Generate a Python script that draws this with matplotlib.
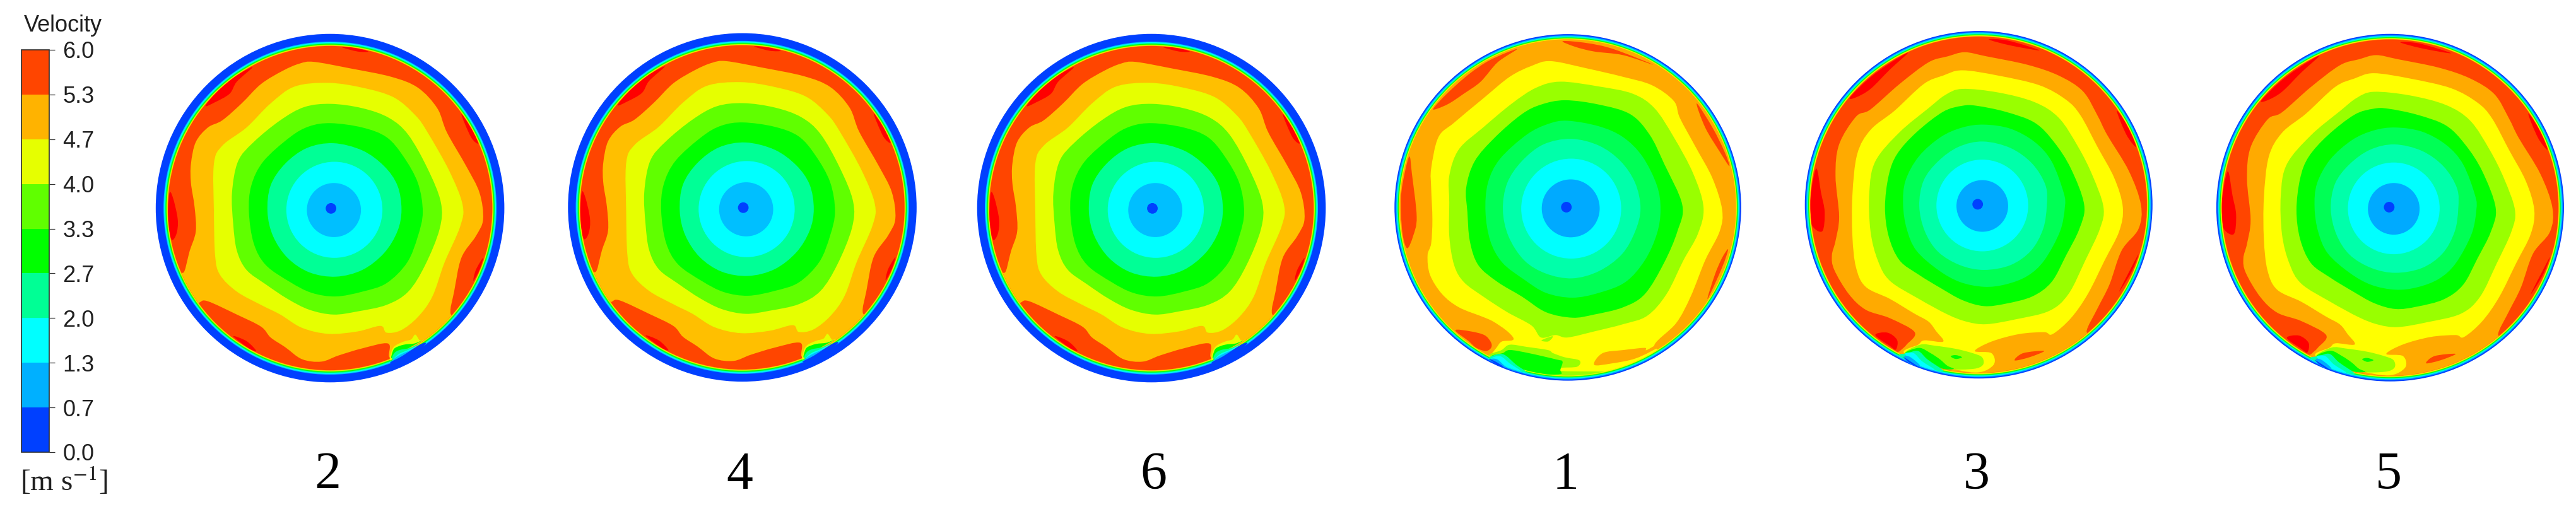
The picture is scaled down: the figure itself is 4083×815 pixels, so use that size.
import numpy as np
import matplotlib
matplotlib.use("Agg")
import matplotlib.pyplot as plt
from matplotlib.cm import ScalarMappable
from matplotlib.colors import BoundaryNorm, ListedColormap
from matplotlib.patches import Circle, PathPatch
from matplotlib.path import Path

plt.rcParams['font.family'] = ['Liberation Sans', 'DejaVu Sans']
plt.rcParams['mathtext.fontset'] = 'stix'

W, H = 4083, 815
CROP = 600        # every disc is traced on a 600 px crop of the picture
UNITS = 1568      # the outlines below are in units of that crop

# colour bar
levels = [0.0, 0.7, 1.3, 2.0, 2.7, 3.3, 4.0, 4.7, 5.3, 6.0]
bar_colors = ['#0040FF', '#00B0FF', '#00FFFF', '#00FF95', '#00FF00',
              '#60FF00', '#E6FF00', '#FFB300', '#FF4500']

# band colours of the two groups of plots, slow to fast
a_colors = dict(core='#0040FF', blue='#00BFFF', cyan='#00FFFF', aqua='#00FF96', green='#00FF00',
                lime='#60FF00', yellow='#E6FF00', orange='#FFBF00', hot='#FF4500', red='#FF0000')
b_colors = dict(core='#0040FF', blue='#00AAFF', cyan='#00FFFF', aqua='#00FFAA', spring='#00FF55', green='#00FF00',
                lime='#99FF00', yellow='#FFFF00', orange='#FFAA00', hot='#FF4500', red='#FF0000')

# plots 2, 4, 6
a_wall = [766, 784, 722]
a_core = [770, 785, 22]
a_blue = [782, 792, 112]
a_cyan = [784, 791, 199]
a_aqua = [(780, 515), (900, 545), (990, 610), (1045, 690), (1062, 790), (1045, 880), (990, 970), (900, 1040),
          (790, 1068), (680, 1050), (590, 990), (530, 900), (507, 800), (520, 690), (580, 600), (670, 535)]
a_green = [(770, 432), (900, 450), (1000, 490), (1070, 570), (1130, 680), (1150, 800), (1130, 900), (1085, 1010),
           (1000, 1095), (900, 1130), (790, 1150), (690, 1135), (600, 1090), (500, 1020), (450, 930), (430, 800),
           (440, 690), (490, 590), (600, 490), (680, 445)]
a_lime = [(770, 352), (900, 370), (1010, 410), (1090, 480), (1170, 620), (1225, 760), (1220, 870), (1160, 1020),
          (1090, 1130), (1000, 1185), (880, 1212), (780, 1225), (680, 1205), (590, 1160), (500, 1100), (420, 1040),
          (380, 960), (365, 850), (360, 720), (385, 590), (450, 510), (560, 420), (660, 365)]
a_yellow = [(760, 265), (900, 285), (1030, 325), (1120, 400), (1170, 470), (1260, 630), (1315, 770), (1305, 860),
            (1240, 1010), (1190, 1150), (1130, 1235), (1060, 1290), (1000, 1300), (975, 1272), (880, 1295),
            (760, 1305), (650, 1280), (560, 1225), (480, 1185), (380, 1130), (310, 1060), (290, 980), (285, 800),
            (285, 600), (320, 525), (420, 450), (520, 350), (620, 280)]
a_orange = [(700, 178), (850, 205), (1020, 240), (1130, 285), (1210, 370), (1250, 470), (1330, 610), (1385, 720),
            (1400, 830), (1370, 900), (1310, 990), (1280, 1130), (1265, 1220), (1300, 1260), (1170, 1380),
            (1060, 1410), (1012, 1402), (1006, 1345), (900, 1365), (800, 1395), (730, 1420), (650, 1410), (580, 1360),
            (520, 1320), (480, 1275), (380, 1225), (260, 1170), (225, 1175), (190, 1200), (130, 1060), (160, 1050),
            (175, 1000), (185, 960), (210, 880), (205, 780), (190, 680), (190, 600), (210, 510), (260, 450), (320, 420),
            (400, 350), (480, 270), (570, 215), (640, 185)]
a_red = [[(100, 725), (115, 740), (135, 830), (130, 890), (110, 915), (95, 850)],
         [(250, 360), (300, 300), (370, 240), (445, 200), (380, 260), (350, 310), (290, 345)],
         [(815, 117), (870, 120), (925, 135), (880, 135)],
         [(1310, 395), (1350, 450), (1380, 515), (1350, 490)],
         [(1400, 990), (1385, 1040), (1360, 1085), (1370, 1040)],
         [(365, 1315), (420, 1335), (460, 1375), (430, 1365)]]
a_notch = [('yellow', [(1015, 1415), (1021, 1376), (1036, 1354), (1071, 1337), (1102, 1328), (1119, 1308), (1137, 1332),
                       (1150, 1332), (1054, 1385)]),
           ('green', [(1021, 1406), (1025, 1380), (1036, 1363), (1071, 1350), (1115, 1345), (1145, 1334), (1054, 1385)]),
           ('aqua', [(1023, 1409), (1032, 1385), (1054, 1372), (1098, 1363), (1137, 1345), (1054, 1398)]),
           ('cyan', [(1028, 1411), (1050, 1389), (1089, 1372), (1128, 1354), (1054, 1402)]),
           ('blue', [(1023, 1415), (1054, 1393), (1115, 1365), (1137, 1350), (1054, 1406)]),
           ('core', [(1015, 1424), (1063, 1398), (1141, 1348), (1159, 1350), (1071, 1420)])]

# plot 1
b_wall = [771, 781, 718]
b_core = [765, 780, 22]
b_blue = [783, 785, 120]
b_cyan = [785, 786, 207]
b_aqua = [(785, 497), (900, 525), (990, 590), (1050, 680), (1072, 785), (1050, 880), (995, 975), (900, 1045),
          (790, 1075), (680, 1055), (590, 1000), (525, 900), (502, 790), (520, 680), (580, 590), (670, 520)]
b_spring = [(770, 422), (900, 445), (1000, 490), (1080, 570), (1140, 690), (1155, 790), (1140, 890), (1090, 1000),
            (1010, 1090), (900, 1135), (790, 1155), (680, 1135), (590, 1080), (500, 1010), (450, 920), (430, 800),
            (440, 680), (490, 580), (600, 480), (690, 435)]
b_green = [(760, 337), (900, 355), (1030, 395), (1110, 480), (1170, 600), (1245, 770), (1225, 880), (1170, 1010),
           (1090, 1140), (1000, 1195), (880, 1225), (790, 1238), (680, 1215), (580, 1150), (480, 1090), (400, 1020),
           (365, 920), (355, 800), (350, 700), (385, 590), (470, 490), (580, 395), (660, 355)]
b_lime = [(740, 260), (900, 280), (1040, 310), (1130, 370), (1210, 490), (1290, 640), (1333, 780), (1310, 890),
          (1250, 1000), (1180, 1140), (1100, 1230), (1000, 1265), (880, 1295), (770, 1320), (720, 1310), (660, 1320),
          (620, 1270), (520, 1215), (420, 1150), (340, 1090), (300, 1020), (280, 900), (280, 760), (280, 650),
          (320, 540), (420, 450), (540, 350), (640, 285)]
b_yellow = [(700, 175), (850, 205), (1000, 240), (1120, 275), (1210, 340), (1235, 410), (1300, 530), (1370, 660),
            (1410, 790), (1400, 880), (1340, 1000), (1280, 1150), (1220, 1260), (1130, 1350), (1160, 1400),
            (950, 1500), (770, 1520), (600, 1500), (420, 1420), (430, 1400), (453, 1389), (475, 1363), (497, 1337),
            (540, 1332), (544, 1319), (514, 1289), (462, 1254), (420, 1235), (320, 1195), (250, 1140), (200, 1060),
            (190, 980), (205, 930), (210, 830), (205, 700), (205, 620), (235, 490), (300, 430), (420, 330), (530, 240),
            (620, 195)]
b_orange_patch = [(880, 1433), (915, 1385), (1002, 1372), (1089, 1363), (1098, 1372), (1167, 1332), (1175, 1332),
                  (1158, 1354), (1054, 1406), (950, 1428)]
b_lime_patch = [(444, 1402), (497, 1372), (531, 1350), (601, 1359), (688, 1372), (710, 1385), (758, 1402), (819, 1415),
                (810, 1441), (745, 1446), (749, 1459), (932, 1463), (740, 1482), (584, 1463)]
b_lime_blob = [(662, 1332), (705, 1315), (705, 1324), (688, 1337)]
b_green_patch = [(457, 1398), (501, 1385), (531, 1372), (610, 1385), (723, 1411), (749, 1420), (740, 1454), (740, 1472),
                 (653, 1472), (592, 1459), (540, 1424)]
b_hot = [[(215, 370), (270, 310), (360, 230), (450, 170), (560, 125), (480, 180), (410, 260), (340, 310), (280, 350), (230, 372)],
         [(750, 92), (850, 100), (960, 125), (1125, 190), (1000, 150), (880, 135), (800, 115)],
         [(1305, 350), (1370, 450), (1420, 550), (1440, 610), (1400, 550), (1340, 450)],
         [(115, 570), (125, 640), (145, 820), (130, 900), (105, 950), (85, 880), (80, 740), (95, 640)],
         [(1435, 955), (1410, 1030), (1350, 1160), (1380, 1060), (1410, 990)],
         [(305, 1290), (370, 1295), (427, 1311), (453, 1341), (453, 1363), (431, 1376), (392, 1363), (360, 1335)]]
b_notch = [('aqua', [(444, 1406), (501, 1389), (557, 1433), (597, 1463), (505, 1433)]),
           ('cyan', [(453, 1409), (492, 1398), (531, 1428), (575, 1459), (497, 1433)]),
           ('blue', [(453, 1411), (479, 1411), (514, 1441), (557, 1463), (497, 1437)]),
           ('core', [(444, 1409), (470, 1419), (505, 1441), (479, 1433)])]

# plots 3, 5
c_wall = [748, 770, 720]
c_core = [744, 768, 22]
c_blue = [763, 775, 107]
c_cyan = [763, 773, 190]
c_aqua = [(766, 508), (880, 535), (970, 600), (1025, 690), (1030, 775), (1015, 870), (965, 960), (880, 1020),
          (770, 1040), (670, 1020), (580, 965), (525, 880), (502, 775), (520, 670), (580, 590), (665, 530)]
c_spring = [(770, 438), (880, 455), (980, 510), (1050, 590), (1100, 720), (1105, 780), (1085, 880), (1020, 1000),
            (950, 1065), (860, 1100), (770, 1110), (670, 1090), (580, 1040), (490, 960), (450, 870), (435, 770),
            (445, 670), (500, 570), (590, 490), (680, 450)]
c_green = [(740, 360), (860, 385), (980, 430), (1060, 510), (1130, 620), (1185, 770), (1165, 870), (1110, 980),
           (1050, 1090), (970, 1150), (860, 1180), (770, 1190), (680, 1165), (590, 1115), (500, 1060), (420, 1000),
           (375, 900), (360, 780), (375, 650), (410, 560), (490, 470), (600, 385), (680, 360)]
c_lime = [(680, 290), (830, 305), (980, 345), (1080, 410), (1160, 530), (1220, 650), (1265, 780), (1250, 870),
          (1190, 1000), (1120, 1140), (1040, 1210), (900, 1245), (780, 1265), (700, 1255), (620, 1225), (500, 1160),
          (380, 1085), (330, 1000), (300, 880), (295, 720), (320, 590), (420, 470), (540, 370), (610, 315)]
c_orange = [(690, 138), (780, 155), (950, 190), (1080, 235), (1180, 300), (1240, 400), (1280, 480), (1370, 630),
            (1420, 770), (1410, 870), (1340, 960), (1290, 1100), (1240, 1200), (1195, 1295), (1230, 1320),
            (1050, 1480), (800, 1510), (600, 1490), (400, 1400), (422, 1376), (449, 1350), (483, 1298), (380, 1240),
            (280, 1205), (210, 1140), (150, 1040), (140, 980), (155, 920), (170, 820), (155, 650), (170, 520),
            (240, 405), (300, 375), (420, 270), (540, 180), (620, 155)]
c_yellow = [(680, 213), (830, 235), (1000, 275), (1110, 335), (1170, 400), (1240, 530), (1310, 660), (1345, 780),
            (1330, 880), (1270, 1000), (1200, 1140), (1130, 1240), (1054, 1306), (1019, 1298), (915, 1306), (801, 1337),
            (732, 1376), (801, 1385), (810, 1433), (740, 1465), (600, 1440), (440, 1385), (497, 1350), (523, 1332),
            (601, 1337), (571, 1293), (540, 1254), (480, 1220), (380, 1160), (280, 1110), (240, 1030), (225, 900),
            (225, 730), (245, 560), (300, 460), (400, 380), (520, 270), (600, 235)]
c_hot_patch = [(897, 1415), (932, 1385), (1019, 1376), (958, 1402)]
c_lime_patch = [(440, 1390), (505, 1350), (566, 1354), (653, 1367), (723, 1385), (762, 1402), (766, 1433), (727, 1450),
                (627, 1450), (540, 1420)]
c_green_patch = [(444, 1385), (501, 1363), (549, 1385), (588, 1411), (618, 1437), (645, 1450), (601, 1450), (540, 1424),
                 (505, 1402)]
c_green_spot = [(632, 1398), (653, 1393), (679, 1402), (653, 1409)]
c_red = [[(75, 620), (95, 720), (110, 800), (100, 880), (55, 850), (50, 750)],
         [(215, 325), (290, 250), (370, 190), (455, 140), (380, 210), (300, 290), (240, 325)],
         [(790, 85), (870, 90), (1000, 130), (880, 110)],
         [(1320, 380), (1370, 450), (1400, 530), (1360, 480)],
         [(1410, 975), (1380, 1050), (1330, 1130), (1370, 1050)],
         [(320, 1310), (370, 1300), (410, 1330), (405, 1370), (380, 1355)]]
c_notch = [('aqua', [(420, 1395), (453, 1385), (497, 1376), (536, 1411), (601, 1459), (500, 1435)]),
           ('cyan', [(444, 1389), (479, 1385), (514, 1419), (566, 1454), (497, 1433)]),
           ('blue', [(440, 1398), (466, 1402), (505, 1437), (462, 1428)]),
           ('core', [(436, 1402), (453, 1411), (497, 1441), (462, 1425)])]

# name under each plot
plot_names = ['2', '4', '6', '1', '3', '5']
plot_x = [519, 1172, 1828, 2482, 3133, 3786]


def closed_path(points):
    # closed Catmull-Rom curve through the traced points
    pts = np.array(points, dtype=float)
    prev_p, next_p = np.roll(pts, 1, axis=0), np.roll(pts, -1, axis=0)
    next2 = np.roll(pts, -2, axis=0)
    verts = [pts[0]]
    codes = [Path.MOVETO]
    for p0, p1, p2, p3 in zip(prev_p, pts, next_p, next2):
        verts += [p1 + (p2 - p0) / 6, p2 - (p3 - p1) / 6, p2]
        codes += [Path.CURVE4] * 3
    return Path(verts, codes)


def make_axes(crop_x, crop_y, dx=0, dy=0):
    x0 = crop_x + dx * CROP / UNITS
    y0 = crop_y + dy * CROP / UNITS
    ax = fig.add_axes([x0 / W, 1 - (y0 + CROP) / H, CROP / W, CROP / H])
    ax.set_xlim(0, UNITS)
    ax.set_ylim(UNITS, 0)
    ax.axis('off')
    return ax


def draw_wall(ax, wall, layers):
    # the thin boundary layer is a stack of circles, outside in
    for color, r in layers:
        ax.add_patch(Circle(wall[:2], r, fc=color, ec='none'))


def fill(ax, points, color, clip):
    patch = PathPatch(closed_path(points), fc=color, ec='none')
    ax.add_patch(patch)
    if clip is not None:
        patch.set_clip_path(clip)


def draw_rings(ax, cols, core, blue, cyan):
    ax.add_patch(Circle(cyan[:2], cyan[2], fc=cols['cyan'], ec='none'))
    ax.add_patch(Circle(blue[:2], blue[2], fc=cols['blue'], ec='none'))
    ax.add_patch(Circle(core[:2], core[2], fc=cols['core'], ec='none'))


def plot_a(ax):
    c = a_colors
    draw_wall(ax, a_wall, [(c['core'], 722), (c['blue'], 690), (c['cyan'], 687), (c['aqua'], 684), (c['green'], 681),
                           (c['lime'], 678), (c['yellow'], 676), (c['orange'], 674), (c['hot'], 672)])
    clip = Circle(a_wall[:2], 672, transform=ax.transData)
    for blob in a_red:
        fill(ax, blob, c['red'], clip)
    fill(ax, a_orange, c['orange'], clip)
    fill(ax, a_yellow, c['yellow'], clip)
    fill(ax, a_lime, c['lime'], clip)
    fill(ax, a_green, c['green'], clip)
    fill(ax, a_aqua, c['aqua'], clip)
    draw_rings(ax, c, a_core, a_blue, a_cyan)
    for name, blob in a_notch:
        fill(ax, blob, c[name], None)


def plot_b(ax):
    c = b_colors
    draw_wall(ax, b_wall, [(c['core'], 718), (c['blue'], 713), (c['cyan'], 709), (c['aqua'], 707), (c['green'], 704),
                           (c['lime'], 701), (c['yellow'], 699), (c['orange'], 697)])
    clip = Circle(b_wall[:2], 697, transform=ax.transData)
    for blob in b_hot:
        fill(ax, blob, c['hot'], clip)
    fill(ax, b_yellow, c['yellow'], clip)
    fill(ax, b_orange_patch, c['orange'], clip)
    fill(ax, b_lime_patch, c['lime'], clip)
    fill(ax, b_lime_blob, c['lime'], clip)
    fill(ax, b_green_patch, c['green'], clip)
    fill(ax, b_lime, c['lime'], clip)
    fill(ax, b_green, c['green'], clip)
    fill(ax, b_spring, c['spring'], clip)
    fill(ax, b_aqua, c['aqua'], clip)
    draw_rings(ax, c, b_core, b_blue, b_cyan)
    for name, blob in b_notch:
        fill(ax, blob, c[name], None)


def plot_c(ax):
    c = b_colors
    draw_wall(ax, c_wall, [(c['core'], 720), (c['blue'], 715), (c['cyan'], 711), (c['aqua'], 709), (c['green'], 706),
                           (c['lime'], 703), (c['yellow'], 701), (c['orange'], 699), (c['hot'], 697)])
    clip = Circle(c_wall[:2], 697, transform=ax.transData)
    for blob in c_red:
        fill(ax, blob, c['red'], clip)
    fill(ax, c_orange, c['orange'], clip)
    fill(ax, c_hot_patch, c['hot'], clip)
    fill(ax, c_yellow, c['yellow'], clip)
    fill(ax, c_lime_patch, c['lime'], clip)
    fill(ax, c_green_patch, c['green'], clip)
    fill(ax, c_green_spot, c['green'], clip)
    fill(ax, c_lime, c['lime'], clip)
    fill(ax, c_green, c['green'], clip)
    fill(ax, c_spring, c['spring'], clip)
    fill(ax, c_aqua, c['aqua'], clip)
    draw_rings(ax, c, c_core, c_blue, c_cyan)
    for name, blob in c_notch:
        fill(ax, blob, c[name], None)


fig = plt.figure(figsize=(W / 100, H / 100), dpi=100, facecolor='white')

plot_a(make_axes(230, 30))
plot_a(make_axes(880, 30, 9, -3))
plot_a(make_axes(1530, 30, 5, 0))
plot_b(make_axes(2190, 30))
plot_c(make_axes(2850, 30))
plot_c(make_axes(3480, 30, 58, 12))

# colour bar on the left
cax = fig.add_axes([34 / W, 1 - 717 / H, 44 / W, 638 / H])
sm = ScalarMappable(norm=BoundaryNorm(levels, len(bar_colors)), cmap=ListedColormap(bar_colors))
cb = fig.colorbar(sm, cax=cax, ticks=levels, spacing='uniform', format='%.1f', drawedges=False)
cb.outline.set_edgecolor('#303030')
cb.outline.set_linewidth(1.2)
cax.minorticks_off()
cax.tick_params(length=6.5, width=0.9, color='#303030', labelsize=26, labelcolor='#202020', pad=9)

fig.text(100 / W, 1 - 40 / H, 'Velocity', fontsize=26, color='#202020', ha='center', va='center')
fig.text(101 / W, 1 - 778 / H, '[m s$^{-1}$]', fontsize=34, color='#202020', ha='center', va='baseline',
         family='Liberation Serif')

for name, x in zip(plot_names, plot_x):
    fig.text(x / W, 1 - 775 / H, name, fontsize=60.5, color='black', ha='center', va='baseline',
             family='Liberation Serif')

fig.savefig('out.png', dpi=100, facecolor='white')
